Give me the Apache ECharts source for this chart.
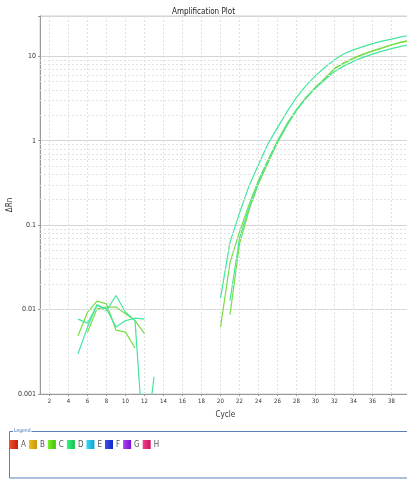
<!DOCTYPE html>
<html>
<head>
<meta charset="utf-8">
<script src="https://cdn.jsdelivr.net/npm/echarts@6/dist/echarts.min.js"></script>
<style>
  html, body { margin: 0; padding: 0; background: #fff; }
  #chart { width: 407px; height: 479px; }
</style>
</head>
<body>
<div id="chart"></div>
<script>
// cycles 1..40
var cycles = [];
for (var i = 1; i <= 40; i++) cycles.push(i);
var cycleTicks = [2, 4, 6, 8, 10, 12, 14, 16, 18, 20, 22, 24, 26, 28, 30, 32, 34, 36, 38];

// delta Rn per well, null = not drawn (negative / no data)
var wellC1 = [null, null, null, null, 0.0049, 0.0093, 0.0126, 0.0117, 0.0057, 0.0054,
  0.0035, null, null, null, null, null, null, null, null, 0.0062,
  0.036, 0.083, 0.175, 0.34, 0.59, 1.0, 1.59, 2.34, 3.25, 4.3,
  5.5, 7.2, 8.4, 9.5, 10.6, 11.6, 12.6, 13.7, 14.7, 15.5];
var wellC2 = [null, null, null, null, null, 0.0054, 0.0102, 0.0107, 0.0107, 0.0089,
  0.0074, 0.0052, null, null, null, null, null, null, null, null,
  0.0087, 0.06, 0.15, 0.31, 0.55, 0.95, 1.52, 2.28, 3.2, 4.25,
  5.45, 7.1, 8.3, 9.4, 10.5, 11.5, 12.5, 13.6, 14.6, 15.4];
var wellD1 = [null, null, null, null, 0.0077, 0.0069, 0.0112, 0.0102, 0.0062, 0.0074,
  0.0079, 0.0077, null, null, null, null, null, null, null, 0.0137,
  0.063, 0.139, 0.29, 0.52, 0.92, 1.43, 2.21, 3.25, 4.5, 5.9,
  7.4, 9.1, 10.7, 11.9, 13.0, 14.1, 15.1, 16.0, 17.0, 17.8];
var wellD2 = [null, null, null, null, 0.0030, 0.0062, 0.0115, 0.0097, 0.0147, 0.0093,
  0.0074, 0.00018, 0.0016, null, null, null, null, null, null, null,
  0.0128, 0.07, 0.16, 0.32, 0.58, 0.98, 1.55, 2.3, 3.2, 4.2,
  5.3, 6.6, 7.7, 8.7, 9.7, 10.6, 11.5, 12.3, 13.1, 13.9];

var legendNames = ['A', 'B', 'C', 'D', 'E', 'F', 'G', 'H'];
var legendColors = [['#f04a2a', '#c0200e'], ['#f0c020', '#c89400'], ['#7aee2a', '#44c010'], ['#3ef080', '#12c050'],
  ['#3ad8f4', '#10a4d0'], ['#4050f4', '#1424c0'], ['#b040f4', '#7a10d0'], ['#f4408a', '#cc1060']];
var lineColors = { C: '#78dd48', D: '#44e69e' };

// minor grid lines 2..9 in each decade
var minorLines = [];
[0.001, 0.01, 0.1, 1].forEach(function (d) {
  for (var k = 2; k <= 9; k++) minorLines.push({ yAxis: +(d * k).toPrecision(3) });
});

function pairs(arr) {
  return arr.map(function (v, i) { return [cycles[i], v]; });
}

var font = "'Liberation Sans Narrow', 'DejaVu Sans Condensed', 'Liberation Sans', sans-serif";
var chart = echarts.init(document.getElementById('chart'));

var wells = [['C', wellC1], ['C', wellC2], ['D', wellD1], ['D', wellD2]];
var series = [];
// empty entries so every well letter shows in the legend
legendNames.forEach(function (n) {
  if (!lineColors[n]) series.push({ name: n, type: 'line', data: [], symbol: 'none' });
});
wells.forEach(function (w) {
  series.push({
    name: w[0], type: 'line', data: pairs(w[1]),
    showSymbol: false, symbol: 'none', connectNulls: false, clip: true,
    lineStyle: { color: lineColors[w[0]], width: 1.2 },
    itemStyle: { color: lineColors[w[0]] }
  });
});
series.push({
  name: 'grid', type: 'line', data: [], silent: true,
  markLine: {
    silent: true, symbol: 'none', label: { show: false },
    lineStyle: { color: '#e2e2e2', type: [2, 2], width: 1 },
    data: minorLines
  }
});

var option = {
  animation: false,
  title: {
    text: 'Amplification Plot', left: 'center', top: 3,
    textStyle: { fontFamily: font, fontSize: 8, fontWeight: 'normal', color: '#222' }
  },
  grid: {
    left: 40, top: 16, right: -3.5, bottom: 85, outerBoundsMode: 'none',
    show: true, borderColor: '#d0d0d0', borderWidth: 1
  },
  legend: {
    left: 10, top: 440, padding: 0, itemWidth: 8, itemHeight: 9, itemGap: 3,
    icon: 'rect', selectedMode: false,
    textStyle: { fontFamily: font, fontSize: 8, color: '#555', width: 6, padding: [0, 0, 0, -2] },
    data: legendNames.map(function (n, i) {
      return {
        name: n,
        itemStyle: {
          color: new echarts.graphic.LinearGradient(0, 0, 1, 0, [
            { offset: 0, color: legendColors[i][0] }, { offset: 1, color: legendColors[i][1] }])
        }
      };
    })
  },
  xAxis: {
    type: 'value', min: 1, max: 40,
    name: 'Cycle', nameLocation: 'middle', nameGap: 17,
    nameTextStyle: { fontFamily: font, fontSize: 8, color: '#333' },
    axisLine: { lineStyle: { color: '#999' } },
    axisTick: { show: true, length: 2, customValues: cycleTicks, lineStyle: { color: '#999' } },
    axisLabel: { customValues: cycleTicks, fontFamily: font, fontSize: 6, color: '#333', margin: 4 },
    splitLine: { show: true, lineStyle: { color: '#e0e0e0', type: [2, 2] } }
  },
  yAxis: {
    type: 'log', logBase: 10, min: 0.001, max: 30,
    name: 'ΔRn', nameLocation: 'middle', nameGap: 26, nameMoveOverlap: false,
    nameTextStyle: { fontFamily: font, fontSize: 8, color: '#333' },
    axisLine: { show: true, lineStyle: { color: '#999' } },
    axisTick: { show: true, length: 2, lineStyle: { color: '#999' } },
    axisLabel: {
      fontFamily: font, fontSize: 7, color: '#333', margin: 4,
      formatter: function (v) {
        var l = Math.log10(v);
        if (Math.abs(l - Math.round(l)) > 1e-6) return '';
        return String(+Math.pow(10, Math.round(l)).toPrecision(1));
      }
    },
    splitLine: { show: true, lineStyle: { color: '#d4d4d4', width: 1 } }
  },
  graphic: [
    {
      type: 'rect', silent: true,
      shape: { x: 9.5, y: 431.5, width: 410, height: 46.5 },
      style: { fill: 'none', stroke: '#5b82b8', lineWidth: 1 }
    },
    {
      type: 'text', left: 13, top: 428, silent: true,
      style: {
        text: 'Legend', fontFamily: font, fontSize: 5, fill: '#3c6cc0',
        backgroundColor: '#fff', padding: [0, 1]
      }
    }
  ],
  series: series
};

chart.setOption(option);
</script>
</body>
</html>
